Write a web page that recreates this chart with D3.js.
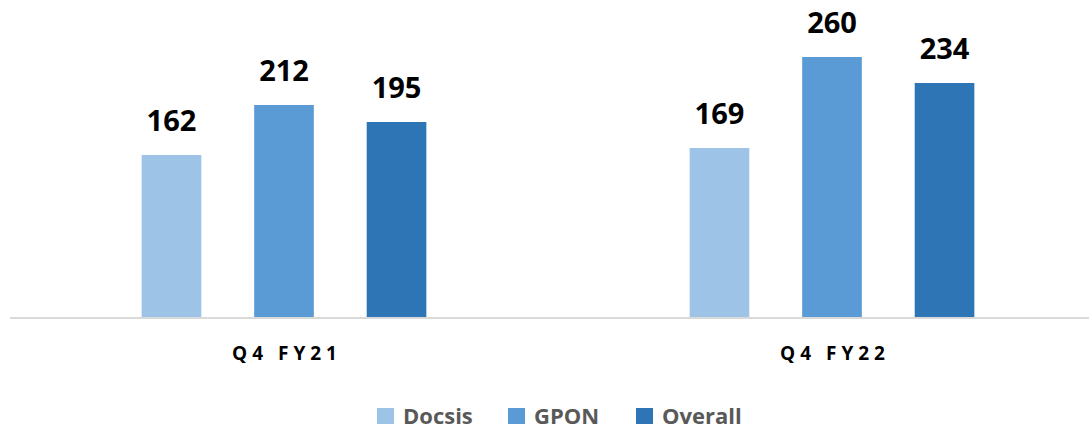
<!DOCTYPE html>
<html>
<head>
<meta charset="utf-8">
<script src="https://cdn.jsdelivr.net/npm/d3@7"></script>
<style>
  body { margin: 0; background: #fff; }
  svg { display: block; font-family: "Open Sans", "Liberation Sans", sans-serif; }
</style>
</head>
<body>
<div id="chart"></div>
<script>
const categories = ["Q4 FY21", "Q4 FY22"];
const seriesNames = ["Docsis", "GPON", "Overall"];
const docsis = [162, 169];
const gpon = [212, 260];
const overall = [195, 234];
const colors = ["#9dc3e6", "#5b9bd5", "#2e75b6"];

const width = 1089, height = 430;
const baseY = 317;

const data = categories.map((c, i) => ({
    cat: c,
    values: [docsis[i], gpon[i], overall[i]].map((v, j) => ({ key: seriesNames[j], value: v }))
}));

const svg = d3.select("#chart")
    .append("svg")
    .attr("width", width)
    .attr("height", height);

const x0 = d3.scaleBand().domain(categories).range([10, 1106]).padding(0);
const x1 = d3.scaleBand().domain(seriesNames).range([0, x0.bandwidth()])
    .paddingInner(0.47).paddingOuter(1.17);
const y = d3.scaleLinear().domain([0, 300]).range([baseY, baseY - 300]);
const color = d3.scaleOrdinal().domain(seriesNames).range(colors);

const groups = svg.selectAll(".group")
    .data(data)
    .enter()
    .append("g")
    .attr("transform", d => `translate(${x0(d.cat)},0)`);

groups.selectAll("rect")
    .data(d => d.values)
    .enter()
    .append("rect")
    .attr("x", d => x1(d.key))
    .attr("y", d => y(d.value))
    .attr("width", x1.bandwidth())
    .attr("height", d => baseY - y(d.value))
    .attr("fill", d => color(d.key));

groups.selectAll(".lbl")
    .data(d => d.values)
    .enter()
    .append("text")
    .attr("x", d => x1(d.key) + x1.bandwidth() / 2)
    .attr("y", d => y(d.value) - 24)
    .attr("text-anchor", "middle")
    .style("font-size", "29px")
    .style("font-weight", "bold")
    .style("fill", "#000")
    .text(d => d.value);

// axis line
svg.append("line")
    .attr("x1", 10).attr("x2", width)
    .attr("y1", baseY + 1).attr("y2", baseY + 1)
    .attr("stroke", "#d9d9d9")
    .attr("stroke-width", 2);

svg.selectAll(".cat")
    .data(categories)
    .enter()
    .append("text")
    .attr("x", d => x0(d) + x0.bandwidth() / 2 + 3)
    .attr("y", 360)
    .attr("text-anchor", "middle")
    .style("font-size", "19px")
    .style("font-weight", "bold")
    .style("letter-spacing", "5px")
    .style("fill", "#000")
    .text(d => d);

// legend
const legendX = [377, 508, 636];
const legend = svg.selectAll(".legend")
    .data(seriesNames)
    .enter()
    .append("g")
    .attr("transform", (d, i) => `translate(${legendX[i]},408)`);

legend.append("rect")
    .attr("width", 17)
    .attr("height", 16)
    .attr("fill", d => color(d));

legend.append("text")
    .attr("x", 26)
    .attr("y", 16)
    .style("font-size", "22px")
    .style("font-weight", "bold")
    .style("fill", "#595959")
    .text(d => d);
</script>
</body>
</html>
